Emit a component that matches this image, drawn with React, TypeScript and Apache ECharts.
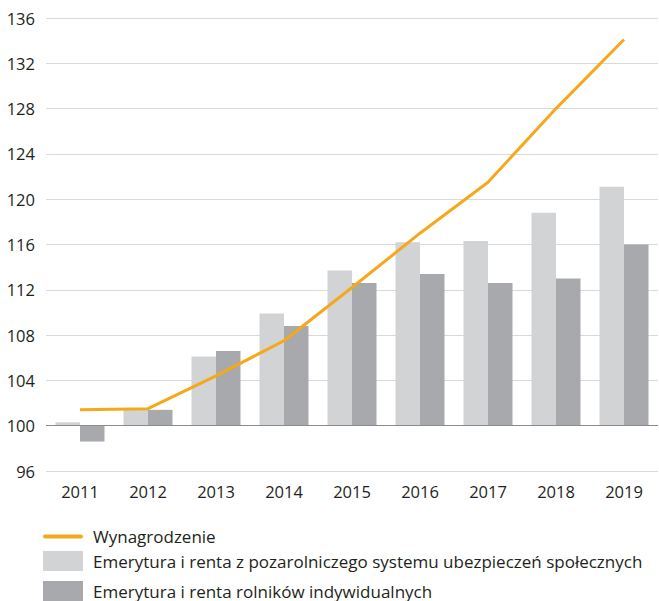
import React, { useEffect, useRef } from "react";
import * as echarts from "echarts";

const years = ["2011", "2012", "2013", "2014", "2015", "2016", "2017", "2018", "2019"];
const wages = [101.4, 101.5, 104.4, 107.5, 112.2, 117.0, 121.5, 128.0, 134.1];
const pensionsNonAgri = [100.3, 101.4, 106.1, 109.9, 113.7, 116.2, 116.3, 118.8, 121.1];
const pensionsFarmers = [98.6, 101.4, 106.6, 108.8, 112.6, 113.4, 112.6, 113.0, 116.0];
const yTicks = { min: 96, max: 136, interval: 4 };
const baseline = 100;

const names = [
  "Wynagrodzenie",
  "Emerytura i renta z pozarolniczego systemu ubezpieczeń społecznych",
  "Emerytura i renta rolników indywidualnych",
];

const FONT = "'Open Sans', sans-serif";
const TXT = "#231f20";

export default function App() {
  const ref = useRef<HTMLDivElement>(null);
  useEffect(() => {
    if (!ref.current) return;
    const chart = echarts.init(ref.current, null, { renderer: "svg" });
    const legendBase = {
      orient: "vertical",
      left: 43,
      padding: 0,
      itemWidth: 40,
      itemHeight: 20,
      selectedMode: false,
      textStyle: { color: TXT, fontSize: 17, fontFamily: FONT, padding: [3, 0, 0, 5] },
    };
    chart.setOption({
      animation: false,
      textStyle: { fontFamily: FONT },
      legend: [
        {
          ...legendBase,
          top: 528,
          data: [{ name: names[0], icon: "path://M2,0H38A2,2,0,0,1,38,4H2A2,2,0,0,1,2,0Z" }],
        },
        { ...legendBase, top: 551, data: [{ name: names[1], icon: "rect" }] },
        { ...legendBase, top: 581, data: [{ name: names[2], icon: "rect" }] },
      ],
      grid: { left: 46, right: 1, top: 18, bottom: 601 - 471 },
      xAxis: {
        type: "category",
        data: years,
        axisLine: { show: false },
        axisTick: { show: false },
        axisLabel: { color: TXT, fontSize: 16.5, fontFamily: FONT, margin: 12 },
      },
      yAxis: [
        {
          type: "value",
          min: yTicks.min,
          max: yTicks.max,
          interval: yTicks.interval,
          axisLine: { show: false },
          axisTick: { show: false },
          axisLabel: { color: TXT, fontSize: 16.5, fontFamily: FONT, margin: 11 },
          splitLine: { lineStyle: { color: "#d9d9d9", width: 1.2 } },
        },
        {
          type: "value",
          min: yTicks.min - baseline,
          max: yTicks.max - baseline,
          interval: yTicks.interval,
          show: false,
          splitLine: { show: false },
        },
      ],
      series: [
        {
          name: names[1],
          type: "bar",
          yAxisIndex: 1,
          data: pensionsNonAgri.map((v) => +(v - baseline).toFixed(2)),
          barWidth: 24.5,
          barGap: "0%",
          itemStyle: { color: "#d1d3d4" },
          z: 2,
        },
        {
          name: names[2],
          type: "bar",
          yAxisIndex: 1,
          data: pensionsFarmers.map((v) => +(v - baseline).toFixed(2)),
          barWidth: 24.5,
          barGap: "0%",
          itemStyle: { color: "#a7a9ac" },
          z: 2,
          markLine: {
            silent: true,
            symbol: "none",
            label: { show: false },
            lineStyle: { color: "#8a8c8f", width: 1.2, type: "solid" },
            data: [{ yAxis: 0 }],
          },
        },
        {
          name: names[0],
          type: "line",
          yAxisIndex: 0,
          data: wages,
          symbol: "none",
          lineStyle: { color: "#f6a81c", width: 3 },
          itemStyle: { color: "#f6a81c" },
          z: 5,
        },
      ],
    });
    return () => chart.dispose();
  }, []);
  return <div ref={ref} style={{ width: 659, height: 601, position: "absolute", left: 0, top: 0 }} />;
}
